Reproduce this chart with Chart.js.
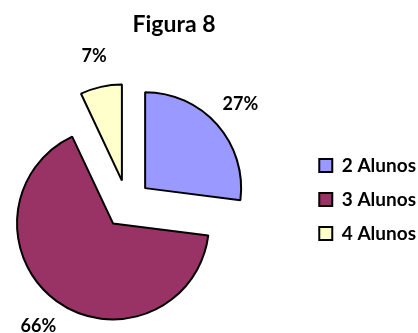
<!DOCTYPE html>
<html>
<head>
<meta charset="utf-8">
<script src="https://cdnjs.cloudflare.com/ajax/libs/Chart.js/4.4.1/chart.umd.min.js"></script>
<style>
  html, body { margin: 0; padding: 0; background: #fff; overflow: hidden; }
  #wrap { position: relative; width: 418px; height: 333px; overflow: hidden; }
  /* plot sits a bit into the left margin, like the original sheet */
  #pie { position: absolute; left: -50px; top: 0; }
</style>
</head>
<body>
<div id="wrap"><canvas id="pie" width="476" height="333"></canvas></div>
<script>
// Data
const categories = ['2 Alunos', '3 Alunos', '4 Alunos'];
const shares = [27, 66, 7];
const colors = ['#9999FF', '#993366', '#FFFFCC'];
const chartTitle = 'Figura 8';

const RADIUS = 96;
const EXPLODE = 96;   // arc offset option, the library moves each slice by a quarter of it
const LABEL_GAP = 31;

// the library grows exploded slices; keep every slice at the same radius
const evenRadius = {
  id: 'evenRadius',
  afterDatasetUpdate(chart, args) {
    args.meta.data.forEach(arc => {
      const shift = arc.options.offset / 4;
      const grow = shift * (1 - Math.sin(Math.min(Math.PI, arc.circumference)));
      const trim = grow / (2 * Math.PI * RADIUS);
      arc.outerRadius = RADIUS - grow;
      arc.startAngle -= trim;
      arc.endAngle += trim;
    });
  }
};

// percentage labels outside each slice + the title
const pctLabels = {
  id: 'pctLabels',
  afterDatasetsDraw(chart) {
    const ctx = chart.ctx;
    const meta = chart.getDatasetMeta(0);
    ctx.save();
    ctx.fillStyle = '#000';
    ctx.textAlign = 'center';
    ctx.textBaseline = 'middle';
    ctx.font = 'bold 18px Lato';
    meta.data.forEach((arc, i) => {
      const { x, y, startAngle, endAngle } = arc.getProps(['x', 'y', 'startAngle', 'endAngle']);
      const mid = (startAngle + endAngle) / 2;
      const d = arc.options.offset / 4 + RADIUS + LABEL_GAP;
      ctx.fillText(shares[i] + '%', x + Math.cos(mid) * d, y + Math.sin(mid) * d);
    });
    ctx.font = 'bold 23px Lato';
    ctx.fillText(chartTitle, 224, 25);
    ctx.restore();
  }
};

Chart.defaults.font.family = 'Lato';
Chart.defaults.color = '#000';

new Chart(document.getElementById('pie'), {
  type: 'pie',
  data: {
    labels: categories,
    datasets: [{
      data: shares,
      backgroundColor: colors,
      borderColor: '#000',
      borderWidth: 2,
      offset: EXPLODE,
      radius: RADIUS,
      clip: false
    }]
  },
  options: {
    responsive: false,
    animation: false,
    events: [],
    layout: { padding: { left: 0, right: 0, top: 141, bottom: 66 } },
    plugins: {
      legend: {
        position: 'right',
        align: 'start',
        fullSize: false,
        labels: {
          boxWidth: 13,
          boxHeight: 13,
          padding: 15,
          color: '#000',
          font: { family: 'Lato', size: 19, weight: 700 }
        }
      },
      tooltip: { enabled: false }
    }
  },
  plugins: [evenRadius, pctLabels]
});
</script>
</body>
</html>
